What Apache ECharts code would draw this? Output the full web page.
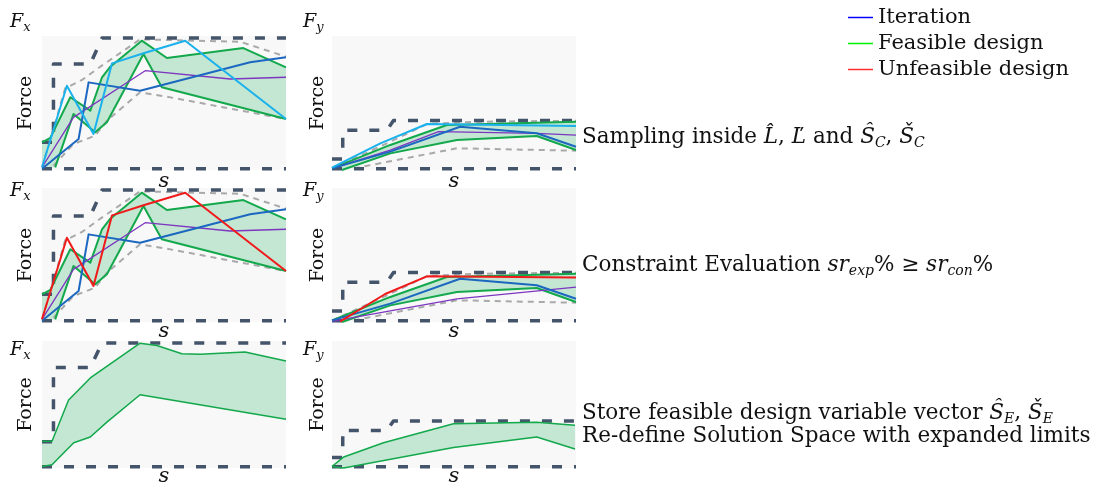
<!DOCTYPE html>
<html><head><meta charset="utf-8">
<script src="https://cdn.jsdelivr.net/npm/echarts@6.0.0/dist/echarts.min.js"></script>
<style>html,body{margin:0;padding:0;background:#fff}#c{width:1101px;height:488px}</style>
</head><body><div id="c"></div>
<script>
// ---------- data (s from 0..100, force from 0..100 in each panel) ----------
const fxUpperLimit = [[0,20.7],[4.7,20.7],[4.7,79.1],[19.8,79.1],[24.6,98.5],[100,98.5]];
const fyUpperLimit = [[0,8.2],[4.4,8.2],[4.4,29.6],[22.5,29.6],[25.2,37],[100,37]];
const lowerLimit = [[0,1],[100,1]];

const fxInnerUpper = [[0,2],[3.4,22.4],[9.5,61],[16.4,67.2],[23.9,77.1],[40.2,97.5],[81.2,95.7],[100,84.6]];
const fxInnerLower = [[4.7,3.2],[12.9,19.4],[21.8,25.6],[26.6,36.8],[40.2,58],[51.2,54.7],[100,38]];
const fxFeasA = [[0,20.7],[3.4,24],[11.6,54.3],[19.8,44.3],[24.6,69.2],[28,77.1],[40.9,96.5],[51.2,83.6],[82.5,91],[100,76.6]];
const fxFeasB = [[5.4,2],[12.9,41.8],[21.8,28.1],[26.6,35.6],[41.6,86.6],[49.1,61.7],[100,38]];
const fxFillEdge = [[0,2]];
const fxSample = [[0,2],[10.2,62.9],[21.1,26.9],[28.7,79.6],[41.6,87.1],[58.7,96.5],[100,38]];
const fxIterBlue = [[0,1],[15,23.1],[19.1,65.4],[40.2,59.2],[85.3,80.4],[100,84.1]];
const fxIterPurple = [[0,2],[12.9,39.3],[42.3,74.1],[77.1,67.9],[100,69.2]];

const fyInnerUpper = [[0,1],[22.5,19.9],[38.9,34.3],[60,36],[100,36.8]];
const fyInnerLower = [[8.9,1.2],[51.2,16.2],[100,14.4]];
const fyFeasA = [[0,1.2],[23.9,18.7],[47.1,33.6],[100,36.1]];
const fyFeasB = [[4.1,0],[23.9,12.4],[51.2,22.4],[83.9,25.4],[100,14.9]];
const fySampleCyan = [[0,1.7],[19.8,19.9],[38.9,34.3],[100,32.8]];
const fySampleRed = [[3.4,0.5],[21.8,20.9],[38.9,34.1],[100,33.3]];
const fyIterBlue = [[0,1.2],[23.9,13.7],[52.5,32.3],[83.9,27.4],[100,17.4]];
const fyIterPurple1 = [[0,1.2],[23.9,14.9],[43.7,28.6],[83.9,27.4],[100,26.1]];
const fyIterPurple2 = [[0,0.5],[51.2,17.2],[100,26.1]];

const fxExpUpper = [[0,21.1],[4.1,21.1],[10.9,53.5],[19.8,70.9],[40.2,98.3],[47.1,96.5],[57.3,90],[64.8,89.6],[83.2,91.3],[100,84.3]];
const fxExpLower = [[0,1.2],[4.1,2.5],[13,19.9],[19.8,24.4],[26.6,36.1],[40.2,57.7],[100,38.3]];
const fyExpUpper = [[0,1.2],[4.8,8.7],[21.1,19.9],[49.8,34.8],[83.9,36.1],[99.6,33.6]];
const fyExpLower = [[0,1.2],[4.8,0],[49.8,16.2],[83.9,24.4],[99.6,14.9]];

const legendNames = ['Iteration','Feasible design','Unfeasible design'];

// ---------- styles ----------
const C = {dark:'#44546a', gray:'#a9a9a9', green:'#12a84b', fill:'#c3e7d2', cyan:'#1ab1ec', blue:'#1c68c0', purple:'#7d36c0', red:'#f01a1a'};
const SERIF = 'DejaVu Serif';

const grids = [
  {left:42, top:36, width:244, height:134},
  {left:332, top:36, width:244, height:134},
  {left:42, top:188, width:244, height:134},
  {left:332, top:188, width:244, height:134},
  {left:42, top:341, width:244, height:134},
  {left:332, top:341, width:244, height:134}
];
const sGap = [1,1,-1,-1,-2,-2];
const forceGap = [6,4,6,4,6,4];

const xAxes = grids.map((g,i)=>({gridIndex:i, type:'value', min:0, max:100, axisLine:{show:false}, axisTick:{show:false}, axisLabel:{show:false}, splitLine:{show:false},
  name:'s', nameLocation:'middle', nameGap:sGap[i], nameTextStyle:{fontFamily:SERIF, fontStyle:'italic', fontSize:21, color:'#111'}}));
const yAxes = grids.map((g,i)=>({gridIndex:i, type:'value', min:0, max:100, axisLine:{show:false}, axisTick:{show:false}, axisLabel:{show:false}, splitLine:{show:false},
  name:'Force', nameLocation:'middle', nameRotate:90, nameGap:forceGap[i], nameTextStyle:{fontFamily:SERIF, fontSize:19, color:'#111'}}));

function line(g, data, color, width, type){
  return {type:'line', xAxisIndex:g, yAxisIndex:g, data:data, symbol:'none', silent:true, clip:false, animation:false,
    lineStyle:{color:color, width:width, type:type||'solid', cap:'butt', join:'round'}};
}
function fill(g, poly){
  return {type:'custom', xAxisIndex:g, yAxisIndex:g, data:[[0,0]], silent:true, animation:false,
    renderItem:function(p, api){ return {type:'polygon', shape:{points:poly.map(pt=>api.coord(pt))}, style:{fill:C.fill}}; }};
}
const DD = [10,12], GD = [6,5];
const fxPoly = fxFeasA.concat(fxFeasB.slice().reverse(), fxFillEdge);
const fyPoly = fyFeasA.concat(fyFeasB.slice().reverse());
const fxExpPoly = fxExpUpper.concat(fxExpLower.slice().reverse());
const fyExpPoly = fyExpUpper.concat(fyExpLower.slice().reverse());

const series = [];
// row 1 Fx
series.push(fill(0, fxPoly), line(0, fxInnerUpper, C.gray, 2, GD), line(0, fxInnerLower, C.gray, 2, GD),
  line(0, fxUpperLimit, C.dark, 3.5, DD), line(0, lowerLimit, C.dark, 3.5, DD),
  line(0, fxFeasA, C.green, 2), line(0, fxFeasB, C.green, 2), line(0, fxIterPurple, C.purple, 1.3),
  line(0, fxIterBlue, C.blue, 2), line(0, fxSample, C.cyan, 2));
// row 1 Fy
series.push(fill(1, fyPoly), line(1, fyInnerUpper, C.gray, 2, GD), line(1, fyInnerLower, C.gray, 2, GD),
  line(1, fyUpperLimit, C.dark, 3.5, DD), line(1, lowerLimit, C.dark, 3.5, DD),
  line(1, fyFeasA, C.green, 2), line(1, fyFeasB, C.green, 2), line(1, fyIterPurple1, C.purple, 1.3),
  line(1, fyIterBlue, C.blue, 2), line(1, fySampleCyan, C.cyan, 2));
// row 2 Fx
series.push(fill(2, fxPoly), line(2, fxInnerUpper, C.gray, 2, GD), line(2, fxInnerLower, C.gray, 2, GD),
  line(2, fxUpperLimit, C.dark, 3.5, DD), line(2, lowerLimit, C.dark, 3.5, DD),
  line(2, fxFeasA, C.green, 2), line(2, fxFeasB, C.green, 2), line(2, fxIterPurple, C.purple, 1.3),
  line(2, fxIterBlue, C.blue, 2), line(2, fxSample, C.red, 2));
// row 2 Fy
series.push(fill(3, fyPoly), line(3, fyInnerUpper, C.gray, 2, GD), line(3, fyInnerLower, C.gray, 2, GD),
  line(3, fyUpperLimit, C.dark, 3.5, DD), line(3, lowerLimit, C.dark, 3.5, DD),
  line(3, fyFeasA, C.green, 2), line(3, fyFeasB, C.green, 2), line(3, fyIterPurple2, C.purple, 1.3),
  line(3, fyIterBlue, C.blue, 2), line(3, fySampleRed, C.red, 2));
// row 3
series.push(fill(4, fxExpPoly), line(4, fxUpperLimit, C.dark, 3.5, DD), line(4, lowerLimit, C.dark, 3.5, DD),
  line(4, fxExpUpper, C.green, 1.5), line(4, fxExpLower, C.green, 1.5));
series.push(fill(5, fyExpPoly), line(5, fyUpperLimit, C.dark, 3.5, DD), line(5, lowerLimit, C.dark, 3.5, DD),
  line(5, fyExpUpper, C.green, 1.5), line(5, fyExpLower, C.green, 1.5));
// legend-only series
const legendColors = ['#0000ff','#00ee00','#ff3030'];
legendNames.forEach((n,i)=>series.push({type:'line', name:n, xAxisIndex:0, yAxisIndex:0, data:[], symbol:'none',
  itemStyle:{color:legendColors[i]}, lineStyle:{color:legendColors[i]}}));

// ---------- texts ----------
const richBase = {
  n:{fontFamily:SERIF, fontSize:21.5, lineHeight:26, fill:'#111'},
  i:{fontFamily:SERIF, fontStyle:'italic', fontSize:21.5, lineHeight:26, fill:'#111'},
  s:{fontFamily:SERIF, fontStyle:'italic', fontSize:14, lineHeight:14, verticalAlign:'bottom', fill:'#111'}
};
const richF = {
  F:{fontFamily:SERIF, fontStyle:'italic', fontSize:19, lineHeight:24, fill:'#111'},
  s:{fontFamily:SERIF, fontStyle:'italic', fontSize:13, lineHeight:13, verticalAlign:'bottom', fill:'#111'}
};
function txt(x, y, text, rich){
  return {type:'text', x:x, y:y, silent:true, style:{text:text, rich:rich, verticalAlign:'middle', align:'left', fill:'#111'}};
}
const rowTextY = [22, 191.5, 350];
const graphics = [];
rowTextY.forEach(y=>{
  graphics.push(txt(10, y, '{F|F}{s|x}', richF));
  graphics.push(txt(303, y, '{F|F}{s|y}', richF));
});
graphics.push(txt(582, 137.5, '{n|Sampling inside }{i|L\u0302}{n|, }{i|L\u030C}{n| and }{i|\u015C}{s|C}{n|, }{i|\u0160}{s|C}', richBase));
graphics.push(txt(582, 265.5, '{n|Constraint Evaluation }{i|sr}{s|exp}{n|% \u2265 }{i|sr}{s|con}{n|%}', richBase));
graphics.push(txt(582, 413, '{n|Store feasible design variable vector }{i|\u015C}{s|E}{n|, }{i|\u0160}{s|E}', richBase));
graphics.push(txt(582, 436.5, '{n|Re-define Solution Space with expanded limits}', richBase));

const chart = echarts.init(document.getElementById('c'), null, {renderer:'canvas'});
chart.setOption({
  animation:false,
  backgroundColor:'#ffffff',
  grid: grids.map(g=>Object.assign({show:true, backgroundColor:'#f8f8f8', borderWidth:0, containLabel:false}, g)),
  xAxis:xAxes, yAxis:yAxes,
  legend:{orient:'vertical', left:848, top:5, padding:0, itemGap:1, itemWidth:25, itemHeight:1.5, icon:'rect', selectedMode:false,
    textStyle:{fontFamily:SERIF, fontSize:21, lineHeight:25, color:'#111'}, data:legendNames},
  series:series,
  graphic:graphics
});
</script></body></html>
